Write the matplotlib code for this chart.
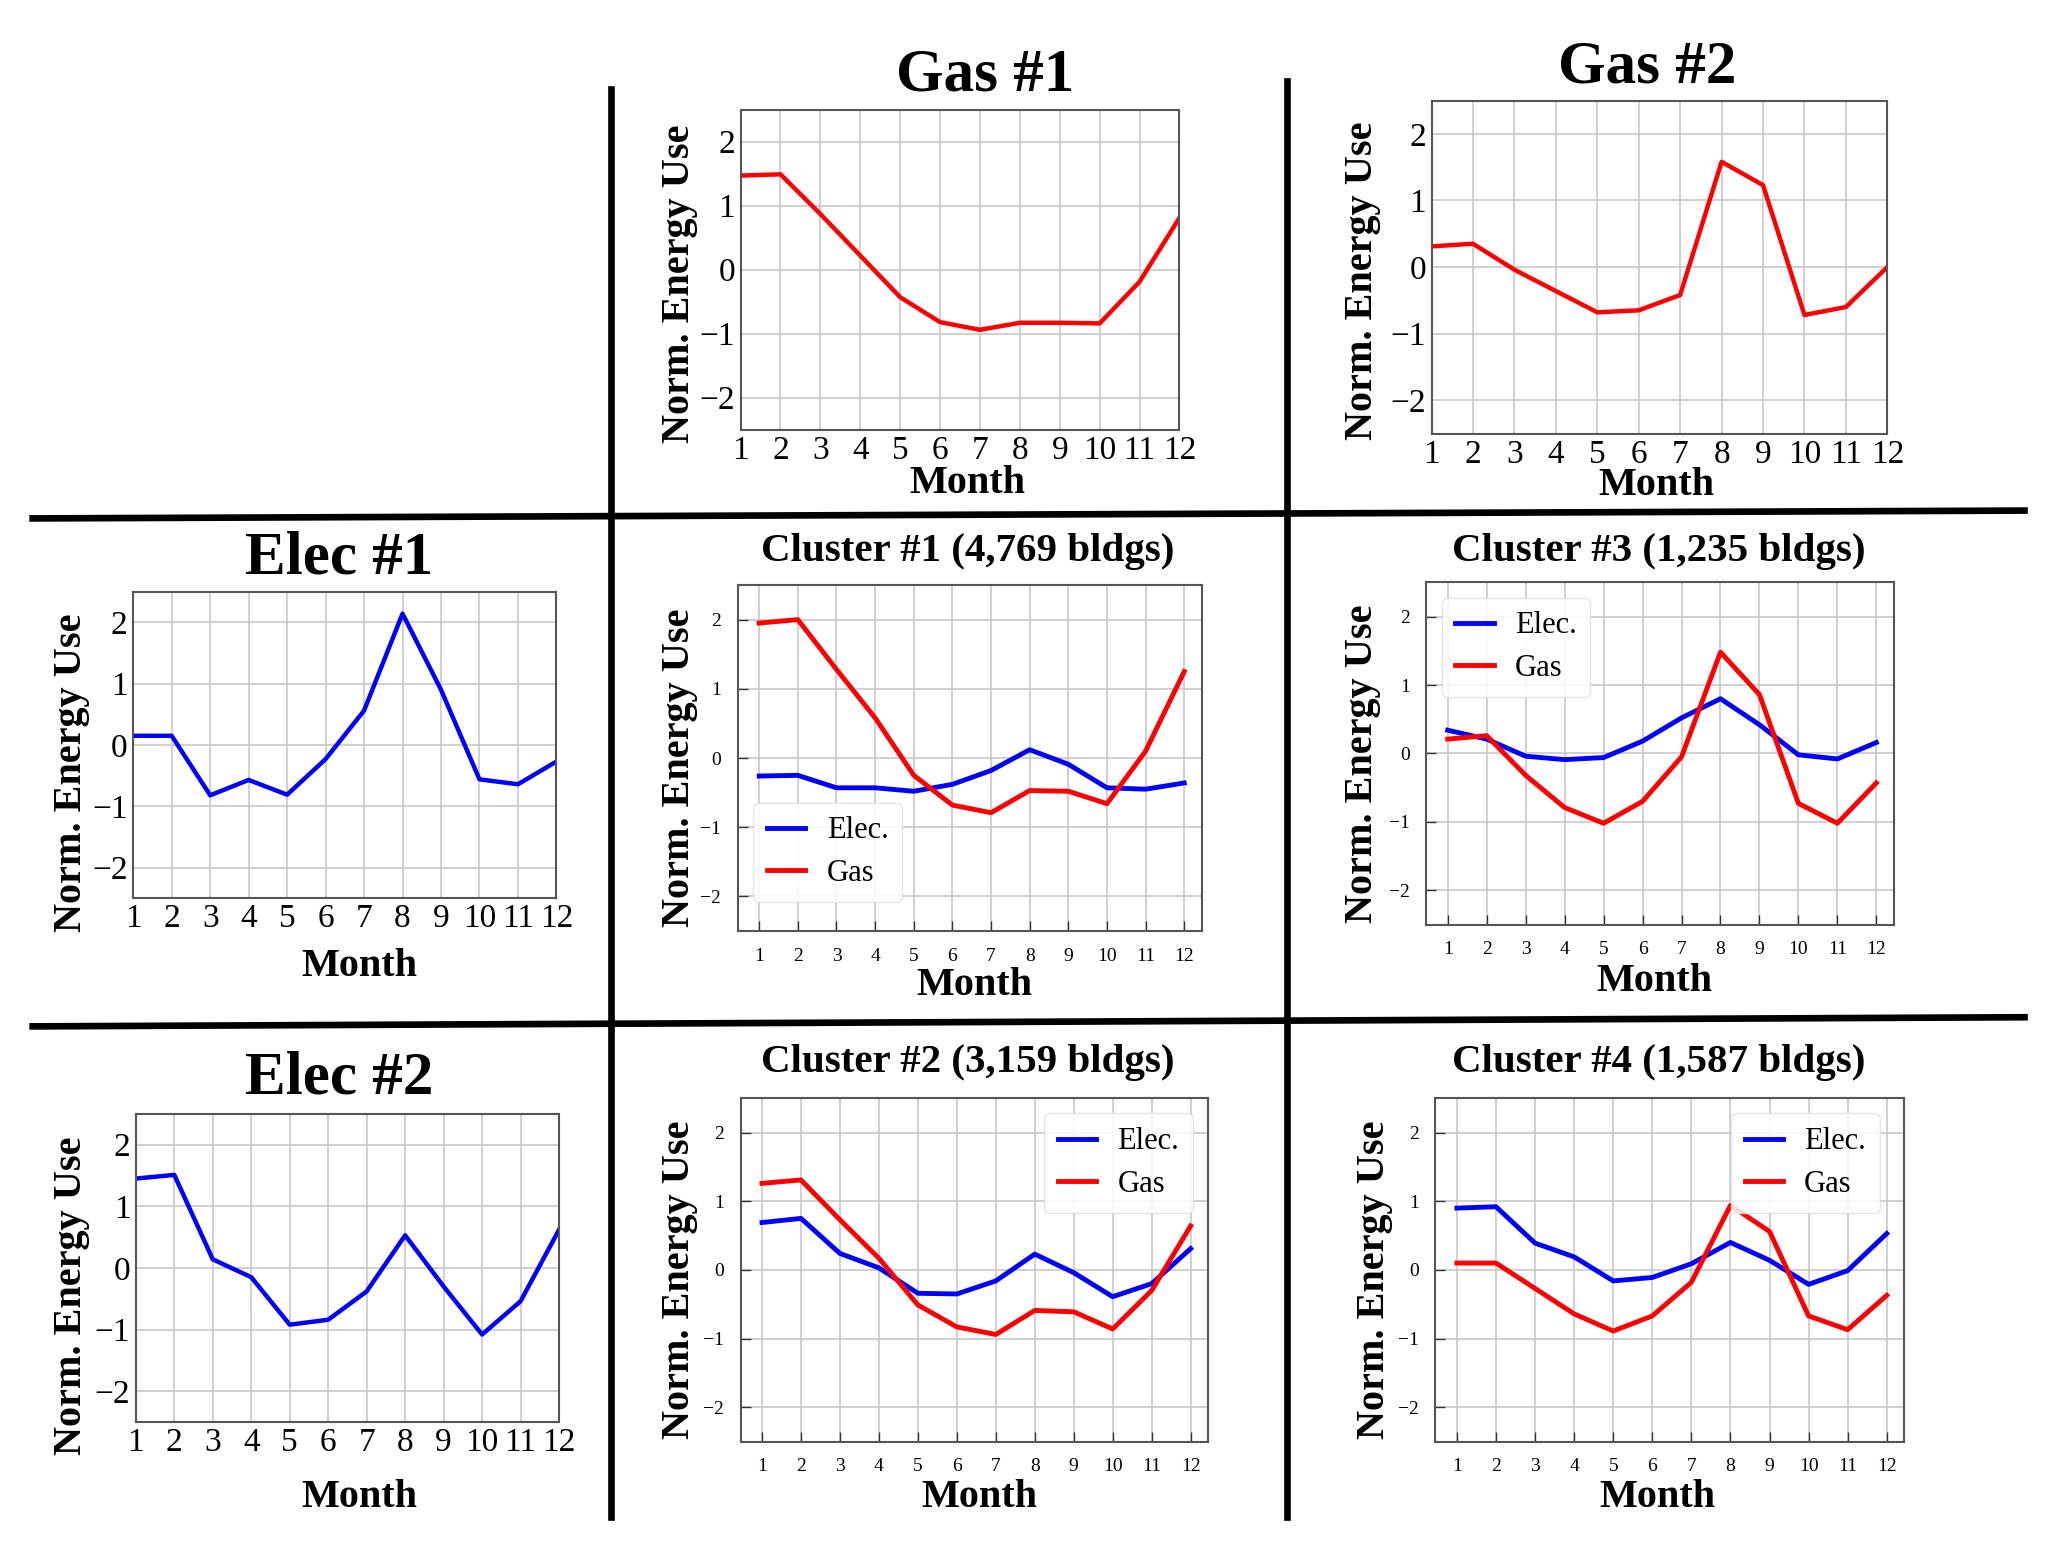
import numpy as np
import matplotlib
matplotlib.use("Agg")
import matplotlib.pyplot as plt
from matplotlib.lines import Line2D

plt.rcParams["font.family"] = ["Liberation Serif", "DejaVu Serif"]
plt.rcParams["axes.unicode_minus"] = True

months = np.arange(1, 13)

# single-type profiles
gas_1 = [1.47, 1.49, 0.87, 0.22, -0.43, -0.82, -0.94, -0.83, -0.83, -0.84, -0.19, 0.81]
gas_2 = [0.31, 0.35, -0.04, -0.36, -0.68, -0.65, -0.42, 1.58, 1.23, -0.72, -0.60, 0.0]
elec_1 = [0.15, 0.15, -0.82, -0.57, -0.81, -0.23, 0.56, 2.14, 0.90, -0.56, -0.64, -0.27]
elec_2 = [1.45, 1.51, 0.14, -0.15, -0.92, -0.84, -0.38, 0.53, -0.30, -1.08, -0.54, 0.62]

# cluster profiles (elec, gas)
c1_elec = [-0.26, -0.25, -0.43, -0.43, -0.48, -0.38, -0.18, 0.12, -0.09, -0.43, -0.45, -0.36]
c1_gas = [1.95, 2.00, 1.28, 0.58, -0.25, -0.68, -0.79, -0.47, -0.48, -0.66, 0.10, 1.25]
c2_elec = [0.69, 0.75, 0.24, 0.03, -0.34, -0.35, -0.16, 0.23, -0.04, -0.39, -0.20, 0.31]
c2_gas = [1.26, 1.31, 0.73, 0.17, -0.51, -0.83, -0.94, -0.59, -0.61, -0.86, -0.30, 0.64]
c3_elec = [0.34, 0.21, -0.04, -0.09, -0.06, 0.18, 0.52, 0.80, 0.42, -0.02, -0.08, 0.16]
c3_gas = [0.21, 0.26, -0.32, -0.79, -1.02, -0.70, -0.05, 1.48, 0.86, -0.73, -1.02, -0.43]
c4_elec = [0.90, 0.92, 0.39, 0.19, -0.16, -0.11, 0.09, 0.40, 0.14, -0.21, -0.01, 0.53]
c4_gas = [0.10, 0.10, -0.27, -0.64, -0.89, -0.67, -0.18, 0.94, 0.56, -0.67, -0.87, -0.37]

W, H = 1568.0, 1200.0  # layout measured on a 1568x1200 view


def fx(px):
    return px / W


def fy(py):
    return 1 - py / H


def box(x0, y0, x1, y1):
    return [fx(x0), fy(y1), (x1 - x0) / W, (y1 - y0) / H]


fig = plt.figure(figsize=(20.48, 15.67), dpi=100)

GRID = "#c8c8c8"
SPINE = "#555555"


def style(ax, small):
    ax.set_ylim(-2.5, 2.5)
    ax.set_yticks([-2, -1, 0, 1, 2])
    ax.set_xticks(months)
    ax.grid(True, color=GRID, linewidth=1.2)
    ax.set_axisbelow(True)
    for s in ax.spines.values():
        s.set_color(SPINE)
        s.set_linewidth(1.5)
    if small:
        ax.set_xlim(0.45, 12.45)
        ax.tick_params(direction="in", length=7, width=1, color="#333333",
                       labelsize=14, pad=12)
    else:
        ax.set_xlim(1, 12)
        ax.tick_params(length=0, labelsize=24, pad=4)


def single(rect, y, color):
    ax = fig.add_axes(box(*rect))
    ax.plot(months, y, color=color, linewidth=3.2)
    style(ax, False)
    return ax


def cluster(rect, elec, gas, loc, anchor=None):
    ax = fig.add_axes(box(*rect))
    ax.plot(months, elec, color="blue", linewidth=3.5, label="Elec.")
    ax.plot(months, gas, color="red", linewidth=3.5, label="Gas")
    style(ax, True)
    ax.legend(loc=loc, bbox_to_anchor=anchor, fontsize=22, handlelength=1.25,
              handletextpad=0.7, labelspacing=0.45, borderpad=0.45,
              fancybox=True, framealpha=0.85, edgecolor="#e0e0e0")
    return ax


single((567, 84, 903, 329), gas_1, "red")
single((1096, 77, 1445, 332), gas_2, "red")
single((102, 453, 426, 688), elec_1, "blue")
single((104, 853, 428, 1089), elec_2, "blue")

cluster((565, 448, 920, 713), c1_elec, c1_gas, "lower left", (0.0, 0.04))
cluster((1092, 446, 1450, 708), c3_elec, c3_gas, "upper left")
cluster((567, 841, 925, 1104), c2_elec, c2_gas, "upper right")
cluster((1099, 841, 1458, 1104), c4_elec, c4_gas, "upper right", (0.98, 1.0))

# big titles
for txt, x, y in [("Gas #1", 754, 58), ("Gas #2", 1261, 52),
                  ("Elec #1", 260, 428), ("Elec #2", 260, 826)]:
    fig.text(fx(x), fy(y), txt, fontsize=44, fontweight="bold",
             ha="center", va="center")

# cluster titles
for txt, x, y in [("Cluster #1 (4,769 bldgs)", 741, 422),
                  ("Cluster #3 (1,235 bldgs)", 1270, 422),
                  ("Cluster #2 (3,159 bldgs)", 741, 814),
                  ("Cluster #4 (1,587 bldgs)", 1270, 814)]:
    fig.text(fx(x), fy(y), txt, fontsize=29.5, fontweight="bold",
             ha="center", va="center")

# x labels
for x, y in [(741, 370), (1268, 372), (275, 740), (275, 1147),
             (746, 755), (1267, 752), (750, 1147), (1269, 1147)]:
    fig.text(fx(x), fy(y), "Month", fontsize=29, fontweight="bold",
             ha="center", va="center")

# y labels
for x, y in [(520, 217), (1043, 215), (55, 592), (55, 992),
             (520, 588), (1043, 585), (520, 980), (1052, 980)]:
    fig.text(fx(x), fy(y), "Norm. Energy Use", fontsize=29, fontweight="bold",
             rotation=90, ha="center", va="center")

# separator lines
seps = [((468, 468), (68, 1162)), ((985, 985), (62, 1162)),
        ((25, 1550), (397, 391)), ((25, 1550), (786, 779))]
for xs, ys in seps:
    fig.add_artist(Line2D([fx(v) for v in xs], [fy(v) for v in ys],
                          color="black", linewidth=4.8))

fig.savefig("out.png", dpi=100, facecolor="white")
